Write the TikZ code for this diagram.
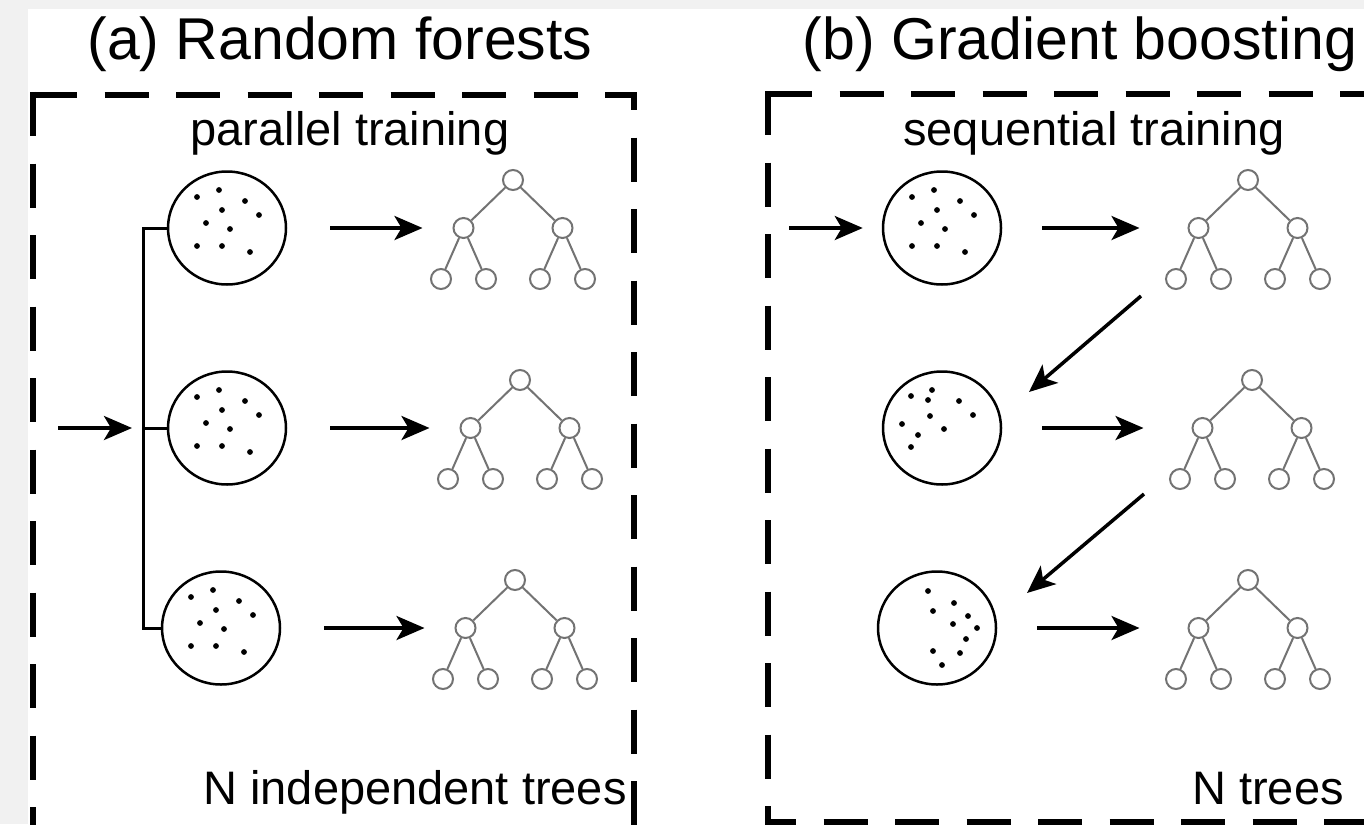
\documentclass[tikz,border=0pt]{standalone}
\usepackage{fontspec}
\setmainfont{Liberation Sans}
\usepackage{xcolor}
\usetikzlibrary{arrows.meta,shapes.geometric}
\definecolor{bggray}{RGB}{241,241,241}
\definecolor{treegray}{RGB}{115,115,115}

% sample positions inside the bags (offsets from the centre)
\newcommand{\sampleA}{-8/-38,-30/-31,18/-27,-5/-18,32/-13,-21/-5,3/1,-30/18,-5/18,23/24}
\newcommand{\sampleB}{-10/-38,-31/-32,-14/-28,17/-27,-12/-12,31/-13,-40/-4,2/1,-24/7,-31/19}
\newcommand{\sampleC}{-9/-37,17/-25,-4/-17,31/-12,16/-4,40/0,29/11,-4/23,23/25,5/37}

\begin{document}
\begin{tikzpicture}[x=1pt, y=-1pt,
    bag/.style={draw, ellipse, line width=2.5pt, minimum width=118pt,
                minimum height=113pt, inner sep=0pt},
    tnode/.style={circle, draw=treegray, line width=2pt, minimum size=20pt, inner sep=0pt},
    level 1/.style={sibling distance=99pt, level distance=48pt},
    level 2/.style={sibling distance=45pt, level distance=51pt},
    edge from parent/.style={draw=treegray, line width=2pt},
    arr/.style={-{Stealth[length=28pt, width=24pt, inset=7pt]}, line width=3.5pt},
    panel/.style={line width=6pt, dash pattern=on 44pt off 27.5pt},
    heading/.style={font=\fontsize{59pt}{60pt}\selectfont, anchor=base},
    lab/.style={font=\fontsize{47pt}{48pt}\selectfont, anchor=base}
  ]
  % Page and margins
  \useasboundingbox (0,0) rectangle (1364,824);
  \fill[bggray] (0,0) rectangle (1364,824);
  \fill[white] (28,9) rectangle (1364,824);
  % Panel headers
  \node[heading] (rfhead) at (340,60) {(a) Random forests};
  \node[heading] (gbhead) at (1080,60) {(b) Gradient boosting};
  \node[lab] (rfmode) at (350,146) {parallel training};
  \node[lab] (gbmode) at (1094,146) {sequential training};
  \node[lab] (rfcount) at (415,804) {N independent trees};
  \node[lab] (gbcount) at (1268,804) {N trees};
  % Dashed frames
  \draw[panel] (33,95) -- (634,95) -- (634,880);
  \draw[panel] (33,92) -- (33,880);
  \draw[panel] (768,94) -- (1370,94) -- (1370,880);
  \draw[panel] (768,91) -- (768,822) -- (1400,822);
  % Bags of samples
  \node[bag] (rf1) at (227,228) {};
  \node[bag] (rf2) at (227,428) {};
  \node[bag] (rf3) at (221,628) {};
  \node[bag] (gb1) at (942,228) {};
  \node[bag] (gb2) at (942,428) {};
  \node[bag] (gb3) at (937,628) {};
  % Sample points
  \foreach \b in {rf1,rf2,rf3,gb1}
    \foreach \dx/\dy in \sampleA
      \fill ([shift={(\dx,\dy)}]\b.center) circle (2.9pt);
  \foreach \dx/\dy in \sampleB
    \fill ([shift={(\dx,\dy)}]gb2.center) circle (2.9pt);
  \foreach \dx/\dy in \sampleC
    \fill ([shift={(\dx,\dy)}]gb3.center) circle (2.9pt);
  % Trees
  \foreach \t/\x/\y in {rft1/513/180, rft2/520/380, rft3/515/580,
                        gbt1/1248/180, gbt2/1252/380, gbt3/1248/580}
    \node[tnode] (\t) at (\x,\y) {}
      child {node[tnode] {} child {node[tnode] {}} child {node[tnode] {}}}
      child {node[tnode] {} child {node[tnode] {}} child {node[tnode] {}}};
  % Fan-out in (a)
  \coordinate (fork) at (143,428);
  \coordinate (rfin) at (58,428);
  \draw[line width=3pt] (rf1.west) -| (fork) |- (rf3.west);
  \draw[line width=3pt] (fork) -- (rf2.west);
  \draw[arr, shorten >=11pt] (rfin) -- (fork);
  % Input to (b)
  \coordinate (gbin) at (789,228);
  \draw[arr, shorten >=19pt] (gbin) -- (gb1);
  % Bags to trees
  \foreach \i in {1,2,3} {
    \draw[arr, shorten <=43pt, shorten >=30pt] (rf\i) -- (rft\i-1);
    \draw[arr, shorten <=40pt, shorten >=48pt] (gb\i) -- (gbt\i-1);
  }
  % Residuals passed on in (b)
  \draw[arr] ([shift={(-35,17)}]gbt1-1-1.center) -- ([shift={(87,-36)}]gb2.center);
  \draw[arr] ([shift={(-36,15)}]gbt2-1-1.center) -- ([shift={(90,-35)}]gb3.center);
\end{tikzpicture}
\end{document}
